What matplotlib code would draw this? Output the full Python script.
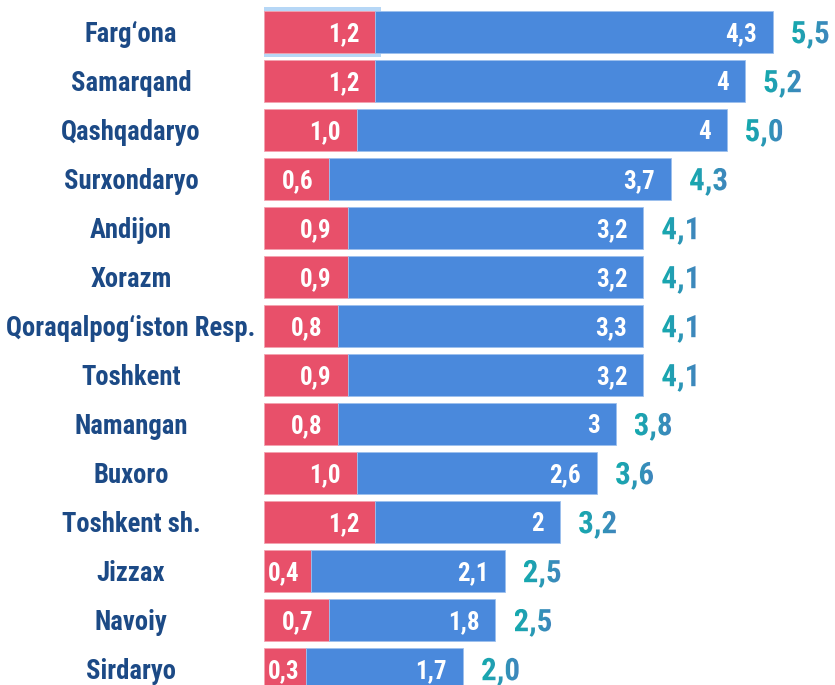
import matplotlib
matplotlib.use('Agg')
import matplotlib.pyplot as plt
import numpy as np
from matplotlib.colors import LinearSegmentedColormap
from matplotlib.font_manager import FontProperties
from matplotlib.patches import PathPatch
from matplotlib.textpath import TextPath
from matplotlib.transforms import Affine2D

# Data (top to bottom)
regions = ['Farg‘ona', 'Samarqand', 'Qashqadaryo', 'Surxondaryo', 'Andijon', 'Xorazm',
           'Qoraqalpog‘iston Resp.', 'Toshkent', 'Namangan', 'Buxoro', 'Toshkent sh.',
           'Jizzax', 'Navoiy', 'Sirdaryo']
red_values = [1.2, 1.2, 1.0, 0.7, 0.9, 0.9, 0.8, 0.9, 0.8, 1.0, 1.2, 0.5, 0.7, 0.45]
blue_values = [4.3, 4.0, 4.0, 3.7, 3.2, 3.2, 3.3, 3.2, 3.0, 2.6, 2.0, 2.1, 1.8, 1.7]
red_labels = ['1,2', '1,2', '1,0', '0,6', '0,9', '0,9', '0,8', '0,9', '0,8', '1,0', '1,2', '0,4', '0,7', '0,3']
blue_labels = ['4,3', '4', '4', '3,7', '3,2', '3,2', '3,3', '3,2', '3', '2,6', '2', '2,1', '1,8', '1,7']
total_labels = ['5,5', '5,2', '5,0', '4,3', '4,1', '4,1', '4,1', '4,1', '3,8', '3,6', '3,2', '2,5', '2,5', '2,0']

RED = '#e8506a'
BLUE = '#4a89dc'
NAVY = '#1c4a86'
FONT = 'Roboto Condensed'
teal_grad = LinearSegmentedColormap.from_list('teal', ['#15aaae', '#3f86bd'])

W, H = 835, 685
fig = plt.figure(figsize=(W / 100, H / 100), dpi=100)

# axes: x=0 at 264 px, 92.45 px per unit; rows 49 px apart, first centre at 32 px
x0 = 264.3
scale = 92.45
pitch = 49.0
top = 32.2
ax = fig.add_axes([x0 / W, 0, (W - x0) / W, 1])
ax.set_xlim(0, (W - x0) / scale)
ax.set_ylim((H - top) / pitch, -top / pitch)
ax.axis('off')

# overlay in pixel units for the gradient totals
ov = fig.add_axes([0, 0, 1, 1], zorder=5)
ov.set_xlim(0, W)
ov.set_ylim(0, H)
ov.axis('off')
ov.patch.set_alpha(0)

ys = list(range(len(regions)))
bar_h = 42.4 / pitch
totals = [r + b for r, b in zip(red_values, blue_values)]

# hover halo on the first red bar
ax.barh(ys[0], red_values[0] + 6 / scale, height=bar_h + 8 / pitch, left=0,
        color='#b6d7f6', zorder=1)

ax.barh(ys, red_values, height=bar_h, color=RED, edgecolor='#f4a3b0', linewidth=0.6, zorder=2)
ax.barh(ys, blue_values, height=bar_h, left=red_values, color=BLUE,
        edgecolor='#9cc0ee', linewidth=0.6, zorder=2)

px = 0.72  # points per pixel
val_size = 18
bold = FontProperties(family=FONT, weight='bold')
grad = np.linspace(0, 1, 64).reshape(1, -1)

for i, name in enumerate(regions):
    ax.annotate(name, xy=(131, i), xycoords=('figure pixels', 'data'),
                xytext=(0, -9.5 * px), textcoords='offset points',
                ha='center', va='baseline', fontsize=19.2, fontweight='bold',
                family=FONT, color=NAVY)

    # red segment label: right aligned, pushed inside when the segment is narrow
    red_px = red_values[i] * scale
    if red_px - 16 < 36:
        ax.annotate(red_labels[i], xy=(0, i), xytext=(4 * px, -8.8 * px),
                    textcoords='offset points', ha='left', va='baseline',
                    fontsize=val_size, fontweight='bold', family=FONT, color='white', zorder=3)
    else:
        ax.annotate(red_labels[i], xy=(red_values[i], i), xytext=(-16 * px, -8.8 * px),
                    textcoords='offset points', ha='right', va='baseline',
                    fontsize=val_size, fontweight='bold', family=FONT, color='white', zorder=3)

    ax.annotate(blue_labels[i], xy=(totals[i], i), xytext=(-16 * px, -8.8 * px),
                textcoords='offset points', ha='right', va='baseline',
                fontsize=val_size, fontweight='bold', family=FONT, color='white', zorder=3)

    # total label with a teal-to-blue gradient fill
    tx = x0 + totals[i] * scale + 18
    ty = H - (top + i * pitch + 11)
    path = TextPath((0, 0), total_labels[i], size=31, prop=bold)
    path = Affine2D().translate(tx, ty).transform_path(path)
    patch = PathPatch(path, facecolor='none', edgecolor='none', transform=ov.transData)
    ov.add_patch(patch)
    ext = path.get_extents()
    img = ov.imshow(grad, cmap=teal_grad, aspect='auto', interpolation='bilinear',
                    extent=[ext.x0, ext.x1, ext.y0, ext.y1], zorder=6)
    img.set_clip_path(patch)

ov.set_xlim(0, W)
ov.set_ylim(0, H)

fig.savefig('out.png', dpi=100)
